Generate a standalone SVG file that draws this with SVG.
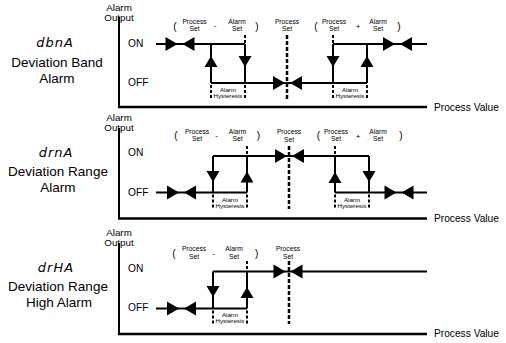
<svg xmlns="http://www.w3.org/2000/svg" width="506" height="343" viewBox="0 0 506 343">
<style>
text{font-family:"Liberation Sans",Arial,sans-serif;fill:#000}
.ax{fill:none;stroke:#000;stroke-width:2}
.bt{fill:none;stroke:#000;stroke-width:2.6}
.sg{fill:none;stroke:#000;stroke-width:2}
.mk{fill:none;stroke:#000;stroke-width:2;stroke-dasharray:3 2}
.cl{fill:none;stroke:#000;stroke-width:2.5;stroke-dasharray:4 2}
.t9{font-size:9.8px;text-anchor:middle}
.t10{font-size:10.2px}
.t13{font-size:13.5px;text-anchor:middle}
.seg{font-family:"DejaVu Sans",sans-serif;font-style:italic;font-size:13px;letter-spacing:1px;text-anchor:middle}
.s7{font-size:6.7px;text-anchor:middle}
.s6{font-size:6.2px;text-anchor:middle}
.par{font-size:10px;text-anchor:middle}
.op{font-size:8px;text-anchor:middle}
</style>
<defs>
<path id="tR" d="M0,0 L-12,-7 L-12,7 Z"/>
<path id="tL" d="M0,0 L12,-7 L12,7 Z"/>
<path id="tU" d="M0,0 L-6.5,11 L6.5,11 Z"/>
<path id="tD" d="M0,0 L-6.5,-11 L6.5,-11 Z"/>
</defs>
<rect width="506" height="343" fill="#fff"/>

<!-- Panel 1: Deviation Band Alarm -->
<g id="panel1">
  <g id="p1-labels">
    <text class="seg" x="55" y="47">dbnA</text>
    <text class="t13" x="57" y="66.5">Deviation Band</text>
    <text class="t13" x="57" y="83">Alarm</text>
    <text class="t9" x="119" y="10.5">Alarm</text>
    <text class="t9" x="119" y="20.5">Output</text>
    <text class="t10" x="128" y="46.5">ON</text>
    <text class="t10" x="128" y="86">OFF</text>
    <text class="t10" x="434" y="110.5">Process Value</text>
    <text class="par" x="175" y="29.5">(</text>
    <text class="s7" x="194.5" y="24">Process</text>
    <text class="s7" x="194.5" y="31">Set</text>
    <text class="op" x="215" y="28">-</text>
    <text class="s7" x="237" y="24">Alarm</text>
    <text class="s7" x="237" y="31">Set</text>
    <text class="par" x="257" y="29.5">)</text>
    <text class="s7" x="287" y="24">Process</text>
    <text class="s7" x="287" y="31">Set</text>
    <text class="par" x="316" y="29.5">(</text>
    <text class="s7" x="334" y="24">Process</text>
    <text class="s7" x="334" y="31">Set</text>
    <text class="op" x="358" y="28.5">+</text>
    <text class="s7" x="378" y="24">Alarm</text>
    <text class="s7" x="378" y="31">Set</text>
    <text class="par" x="399" y="29.5">)</text>
    <text class="s6" x="228" y="91.5">Alarm</text>
    <text class="s6" x="228" y="97.5">Hysteresis</text>
    <text class="s6" x="350" y="91.5">Alarm</text>
    <text class="s6" x="350" y="97.5">Hysteresis</text>
  </g>
  <g id="p1-axes">
    <path class="ax" d="M119,17 V107"/>
    <path class="bt" d="M118,107 H427"/>
  </g>
  <g id="p1-connectors">
    <path class="sg" d="M156,44 H245 M333,44 H427 M211,44 V83 M245,44 V83 M333,44 V83 M367,44 V83 M211,83 H367"/>
    <path class="mk" d="M245,35 V44 M333,35 V44 M211,85 V99 M245,85 V99 M333,85 V99 M367,85 V99"/>
    <path class="cl" d="M287,35 V99"/>
    <use href="#tR" x="177.5" y="44"/><use href="#tL" x="182.5" y="44"/>
    <use href="#tU" x="211" y="56"/><use href="#tD" x="245" y="67"/>
    <use href="#tR" x="285" y="83"/><use href="#tL" x="290" y="83"/>
    <use href="#tD" x="333" y="67"/><use href="#tU" x="367" y="56"/>
    <use href="#tR" x="395" y="44"/><use href="#tL" x="400" y="44"/>
  </g>
</g>

<!-- Panel 2: Deviation Range Alarm -->
<g id="panel2">
  <g id="p2-labels">
    <text class="seg" x="56" y="156.7">drnA</text>
    <text class="t13" x="58" y="175.7">Deviation Range</text>
    <text class="t13" x="58" y="192.3">Alarm</text>
    <text class="t9" x="119" y="120.7">Alarm</text>
    <text class="t9" x="119" y="130.7">Output</text>
    <text class="t10" x="128" y="156">ON</text>
    <text class="t10" x="128" y="195.5">OFF</text>
    <text class="t10" x="434" y="221.5">Process Value</text>
    <text class="par" x="176" y="139">(</text>
    <text class="s7" x="197" y="133.5">Process</text>
    <text class="s7" x="197" y="141">Set</text>
    <text class="op" x="216.7" y="138">-</text>
    <text class="s7" x="237.5" y="133.5">Alarm</text>
    <text class="s7" x="237.5" y="141">Set</text>
    <text class="par" x="258.3" y="139">)</text>
    <text class="s7" x="289" y="134">Process</text>
    <text class="s7" x="289" y="141.5">Set</text>
    <text class="par" x="318.3" y="139">(</text>
    <text class="s7" x="336" y="133.5">Process</text>
    <text class="s7" x="336" y="141">Set</text>
    <text class="op" x="358" y="138.5">+</text>
    <text class="s7" x="378" y="133.5">Alarm</text>
    <text class="s7" x="378" y="141">Set</text>
    <text class="par" x="401" y="139">)</text>
    <text class="s6" x="230" y="201.5">Alarm</text>
    <text class="s6" x="230" y="207.5">Hysteresis</text>
    <text class="s6" x="352" y="201.5">Alarm</text>
    <text class="s6" x="352" y="207.5">Hysteresis</text>
  </g>
  <g id="p2-axes">
    <path class="ax" d="M119,128 V218.5"/>
    <path class="bt" d="M118,218.5 H427"/>
  </g>
  <g id="p2-connectors">
    <path class="sg" d="M156,192.5 H247 M213,156 H369 M213,156 V192.5 M247,156 V192.5 M335,156 V192.5 M369,156 V192.5 M335,192.5 H427"/>
    <path class="mk" d="M247,146 V156 M335,146 V156 M213,194.5 V209 M247,194.5 V209 M335,194.5 V209 M369,194.5 V209"/>
    <path class="cl" d="M289,146 V209"/>
    <use href="#tR" x="179" y="192.5"/><use href="#tL" x="184" y="192.5"/>
    <use href="#tD" x="213" y="182"/><use href="#tU" x="247" y="171.5"/>
    <use href="#tR" x="287" y="156"/><use href="#tL" x="292" y="156"/>
    <use href="#tU" x="335" y="172"/><use href="#tD" x="369" y="182"/>
    <use href="#tR" x="396.5" y="192.5"/><use href="#tL" x="401.5" y="192.5"/>
  </g>
</g>

<!-- Panel 3: Deviation Range High Alarm -->
<g id="panel3">
  <g id="p3-labels">
    <text class="seg" x="56" y="271.7">drHA</text>
    <text class="t13" x="58" y="290.7">Deviation Range</text>
    <text class="t13" x="59" y="307.3">High Alarm</text>
    <text class="t9" x="119" y="235.7">Alarm</text>
    <text class="t9" x="119" y="245.7">Output</text>
    <text class="t10" x="128" y="271.5">ON</text>
    <text class="t10" x="128" y="311">OFF</text>
    <text class="t10" x="434" y="337">Process Value</text>
    <text class="par" x="174" y="256.5">(</text>
    <text class="s7" x="194" y="251">Process</text>
    <text class="s7" x="194" y="258.5">Set</text>
    <text class="op" x="213.5" y="255.5">-</text>
    <text class="s7" x="234" y="251">Alarm</text>
    <text class="s7" x="234" y="258.5">Set</text>
    <text class="par" x="256.7" y="256.5">)</text>
    <text class="s7" x="288" y="251">Process</text>
    <text class="s7" x="288" y="258.5">Set</text>
    <text class="s6" x="230" y="317">Alarm</text>
    <text class="s6" x="230" y="323">Hysteresis</text>
  </g>
  <g id="p3-axes">
    <path class="ax" d="M119,243 V334"/>
    <path class="bt" d="M118,334 H427"/>
  </g>
  <g id="p3-connectors">
    <path class="sg" d="M156,308.5 H247 M213,271.5 H427 M213,271.5 V308.5 M247,271.5 V308.5"/>
    <path class="mk" d="M247,261 V271.5 M213,310.5 V324 M247,310.5 V324"/>
    <path class="cl" d="M289,261 V324"/>
    <use href="#tR" x="179" y="308.5"/><use href="#tL" x="184" y="308.5"/>
    <use href="#tD" x="213" y="297"/><use href="#tU" x="247" y="287"/>
    <use href="#tR" x="285.5" y="271.5"/><use href="#tL" x="290.5" y="271.5"/>
  </g>
</g>
</svg>
